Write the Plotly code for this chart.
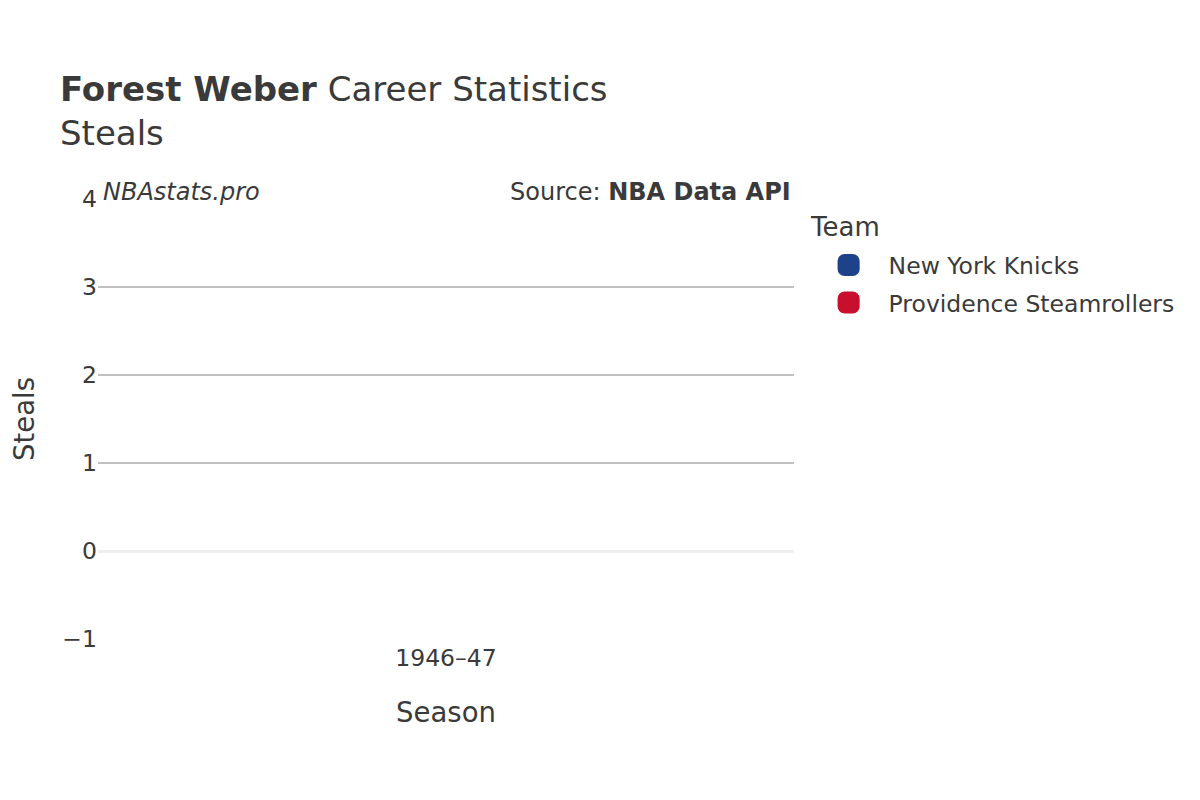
import plotly.graph_objects as go

seasons = ["1946–47"]
teams = ["New York Knicks", "Providence Steamrollers"]
team_colors = ["#1D428A", "#C8102E"]
# steals were not recorded in 1946–47
nyk_steals = [None]
prov_steals = [None]
series = [nyk_steals, prov_steals]
legend_title = "Team"

FONT = "DejaVu Sans"
TXT = "#3a3a3a"

fig = go.Figure()
for name, color, vals in zip(teams, team_colors, series):
    fig.add_trace(go.Bar(
        x=seasons, y=vals, name=name, legendgroup=name,
        marker=dict(color=color, cornerradius=1, line=dict(color=color, width=5)),
    ))

fig.update_layout(
    width=1200, height=800,
    paper_bgcolor="white", plot_bgcolor="white",
    font=dict(family=FONT, color=TXT, size=23.5),
    margin=dict(l=90, r=414, t=191, b=169),
    title=dict(
        text="<b>Forest Weber</b> Career Statistics<br>Steals",
        x=52 / 1200, xanchor="left", xref="container",
        y=0.884, yanchor="top", yref="container",
        font=dict(size=34, family=FONT, color=TXT),
    ),
    barmode="group",
    xaxis=dict(
        title=dict(text="Season", font=dict(size=27.5), standoff=32),
        showgrid=False, zeroline=False, showline=False, automargin=False,
        ticklabelstandoff=2,
        tickfont=dict(size=23.5),
    ),
    yaxis=dict(
        title=dict(text="Steals", font=dict(size=27.5), standoff=41),
        range=[-1, 4], dtick=1, automargin=False,
        showgrid=True, gridcolor="#c0c0c0", gridwidth=1.5,
        zeroline=True, zerolinecolor="#eeeeee", zerolinewidth=3,
        showline=False,
        tickfont=dict(size=23.5),
    ),
    legend=dict(
        font=dict(size=23.5),
        x=1.021, xanchor="left", y=0.8995, yanchor="top",
        tracegroupgap=4, itemwidth=70,
    ),
    annotations=[
        dict(text=legend_title, x=1.0202, y=0.936, xref="paper", yref="paper",
             xanchor="left", yanchor="middle", showarrow=False,
             font=dict(size=26, family=FONT, color=TXT)),
        dict(text="<i>NBAstats.pro</i>", x=0, y=1, xref="paper", yref="paper",
             xanchor="left", yanchor="middle", xshift=3, yshift=7, showarrow=False,
             font=dict(size=24, family=FONT, color=TXT)),
        dict(text="Source: <b>NBA Data API</b>", x=1, y=1, xref="paper", yref="paper",
             xanchor="right", yanchor="middle", xshift=-1, yshift=7, showarrow=False,
             font=dict(size=24, family=FONT, color=TXT)),
    ],
)

post = (
    "document.querySelectorAll('.legend .legendpoints path').forEach(function(p){"
    "p.setAttribute('transform',(p.getAttribute('transform')||'')+' scale(1.3)');});"
)

fig.write_html("out.html", post_script=post)
